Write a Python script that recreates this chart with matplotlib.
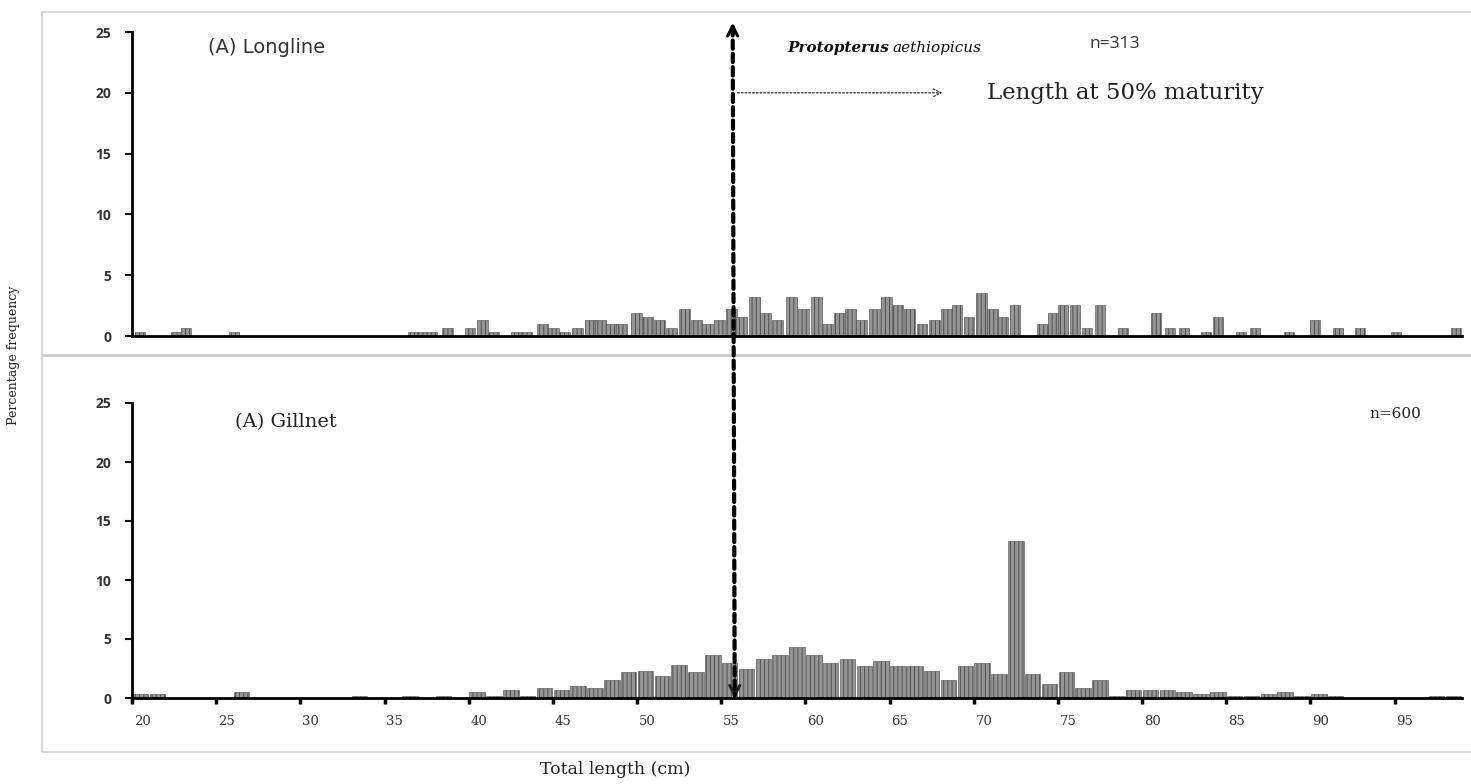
import numpy as np
import matplotlib
matplotlib.use("Agg")
import matplotlib.pyplot as plt
from matplotlib.patches import Rectangle, ConnectionPatch
from matplotlib.lines import Line2D

# ---------------- data ----------------
# Longline (n=313): bar centres (cm) and percentage frequency
top_len = [20.47, 22.61, 23.20, 26.05, 36.68, 37.21, 37.81, 38.75, 40.06, 40.83,
           41.48, 42.85, 43.44, 44.39, 45.04, 45.70, 46.47, 47.24, 47.83, 48.49,
           49.08, 49.97, 50.62, 51.34, 52.05, 52.82, 53.53, 54.18, 54.90, 55.61,
           56.20, 56.97, 57.63, 58.34, 59.17, 59.88, 60.65, 61.31, 62.02, 62.67,
           63.32, 64.10, 64.81, 65.46, 66.17, 66.94, 67.66, 68.37, 69.02, 69.73,
           70.45, 71.10, 71.75, 72.46, 74.07, 74.72, 75.31, 76.02, 76.74, 77.51,
           78.87, 80.83, 81.66, 82.49, 83.80, 84.51, 85.88, 86.71, 88.72, 90.27,
           91.63, 92.94, 95.07, 98.64]
top_pct = [0.32, 0.32, 0.64, 0.32, 0.32, 0.32, 0.32, 0.64, 0.64, 1.28,
           0.32, 0.32, 0.32, 0.96, 0.64, 0.32, 0.64, 1.28, 1.28, 0.96,
           0.96, 1.92, 1.60, 1.28, 0.64, 2.24, 1.28, 0.96, 1.28, 2.24,
           1.60, 3.19, 1.92, 1.28, 3.19, 2.24, 3.19, 0.96, 1.92, 2.24,
           1.28, 2.24, 3.19, 2.56, 2.24, 0.96, 1.28, 2.24, 2.56, 1.60,
           3.51, 2.24, 1.60, 2.56, 0.96, 1.92, 2.56, 2.56, 0.64, 2.56,
           0.64, 1.92, 0.64, 0.64, 0.32, 1.60, 0.32, 0.64, 0.32, 1.28,
           0.64, 0.64, 0.32, 0.64]

# Gillnet (n=600): 1-cm length classes 20..98
bot_len = np.arange(20, 99)
bot_pct = [0.33, 0.33, 0, 0, 0, 0, 0.5, 0, 0, 0,
           0, 0, 0, 0.17, 0, 0, 0.17, 0, 0.17, 0,
           0.5, 0.17, 0.67, 0.17, 0.83, 0.67, 1.0, 0.83, 1.5, 2.17,
           2.33, 1.83, 2.83, 2.17, 3.67, 3.0, 2.5, 3.33, 3.67, 4.33,
           3.67, 3.0, 3.33, 2.67, 3.17, 2.67, 2.67, 2.33, 1.5, 2.67,
           3.0, 2.0, 13.33, 2.0, 1.17, 2.17, 0.83, 1.5, 0.17, 0.67,
           0.67, 0.67, 0.5, 0.33, 0.5, 0.17, 0.17, 0.33, 0.5, 0.17,
           0.33, 0.17, 0, 0, 0, 0, 0, 0.17, 0.17]

x_ticks = [20, 25, 30, 35, 40, 45, 50, 55, 60, 65, 70, 75, 80, 85, 90, 95]
y_ticks = [0, 5, 10, 15, 20, 25]
L50 = 55.8

# ---------------- figure ----------------
W, H = 1471, 784
plt.rcParams['hatch.linewidth'] = 0.7
fig = plt.figure(figsize=(W / 100, H / 100), dpi=100)

def fx(px):
    return px / W

def fy(py):
    return 1 - py / H

# outer frame and separator
fig.add_artist(Rectangle((fx(42), fy(752)), fx(1480) - fx(42), fy(12) - fy(752),
                         transform=fig.transFigure, fill=False, ec='#d8d8d8', lw=1.5))
fig.add_artist(Line2D([fx(42), 1], [fy(355), fy(355)], transform=fig.transFigure,
                      color='#cfcfcf', lw=2.2))

ax_top = fig.add_axes([fx(132), fy(336), fx(1462) - fx(132), fy(32) - fy(336)])
ax_bot = fig.add_axes([fx(132), fy(698), fx(1462) - fx(132), fy(403) - fy(698)])

bar_kw = dict(color='#959595', edgecolor='#505050', hatch='||||', linewidth=0.4)
ax_top.bar(top_len, top_pct, width=0.62, **bar_kw)
ax_bot.bar(bot_len + 0.5, bot_pct, width=0.92, **bar_kw)

for ax in (ax_top, ax_bot):
    ax.set_xlim(20, 99)
    ax.set_ylim(0, 25)
    ax.spines['top'].set_visible(False)
    ax.spines['right'].set_visible(False)
    ax.spines['left'].set_linewidth(2.0)
    ax.spines['bottom'].set_linewidth(2.0)
    ax.set_yticks(y_ticks)
    ax.tick_params(axis='y', direction='out', length=5, width=1.5, pad=10,
                   labelsize=10, labelcolor='#333333')
    for lab in ax.get_yticklabels():
        lab.set_fontfamily('Open Sans')
        lab.set_fontweight('bold')
    ax.patch.set_alpha(0)

ax_top.set_xticks([])

ax_bot.set_xticks(x_ticks)
ax_bot.set_xticklabels([])
ax_bot.tick_params(axis='x', which='major', direction='out', length=4, width=2.5)
ax_bot.set_xticks([t + 0.6 for t in x_ticks], minor=True)
ax_bot.set_xticklabels([str(t) for t in x_ticks], minor=True,
                       fontfamily='DejaVu Serif', fontsize=9.5, color='#333333')
ax_bot.tick_params(axis='x', which='minor', length=0, pad=12)

# texts
ax_top.text(24.5, 23.7, '(A) Longline', fontfamily='DejaVu Sans', fontsize=14,
            color='#333333', va='center')
ax_top.text(58.9, 23.7, 'Protopterus', fontfamily='DejaVu Serif', fontsize=11,
            fontweight='bold', fontstyle='italic', va='center', color='#111111')
ax_top.text(65.2, 23.7, 'aethiopicus', fontfamily='DejaVu Serif', fontsize=11,
            fontstyle='italic', va='center', color='#111111')
ax_top.text(76.9, 24.0, 'n=313', fontfamily='Open Sans', fontsize=12.5,
            color='#333333', va='center')
ax_top.text(70.8, 20.0, 'Length at 50% maturity', fontfamily='DejaVu Serif',
            fontsize=16.5, color='#222222', va='center')
ax_top.annotate('', xy=(68.3, 20.0), xytext=(L50, 20.0),
                arrowprops=dict(arrowstyle='->', linestyle=(0, (1.5, 1.5)),
                                lw=0.9, color='#333333', mutation_scale=14))

ax_bot.text(26.1, 23.4, '(A) Gillnet', fontfamily='DejaVu Serif', fontsize=14,
            color='#222222', va='center')
ax_bot.text(93.5, 24.1, 'n=600', fontfamily='DejaVu Serif', fontsize=11,
            color='#222222', va='center')

# vertical L50 double arrow spanning both panels
con = ConnectionPatch(xyA=(L50 - 0.12, 25.4), coordsA=ax_top.transData,
                      xyB=(L50, 0.2), coordsB=ax_bot.transData,
                      color='black', lw=3.0, linestyle=(0, (2, 1.2)), zorder=10)
fig.add_artist(con)
ax_top.annotate('', xy=(L50 - 0.12, 26.0), xytext=(L50 - 0.12, 24.6),
                arrowprops=dict(arrowstyle='->', lw=2.2, color='black',
                                mutation_scale=18), annotation_clip=False)
ax_bot.annotate('', xy=(L50, -0.3), xytext=(L50, 1.2),
                arrowprops=dict(arrowstyle='->', lw=2.2, color='#222222',
                                mutation_scale=18), annotation_clip=False)

fig.text(fx(14), fy(355), 'Percentage frequency', rotation=90, ha='center',
         va='center', fontfamily='DejaVu Serif', fontsize=9, color='#222222')
fig.text(fx(615), fy(770), 'Total length (cm)', ha='center', va='center',
         fontfamily='DejaVu Serif', fontsize=12.5, color='#222222')

fig.savefig('out.png', dpi=100)
